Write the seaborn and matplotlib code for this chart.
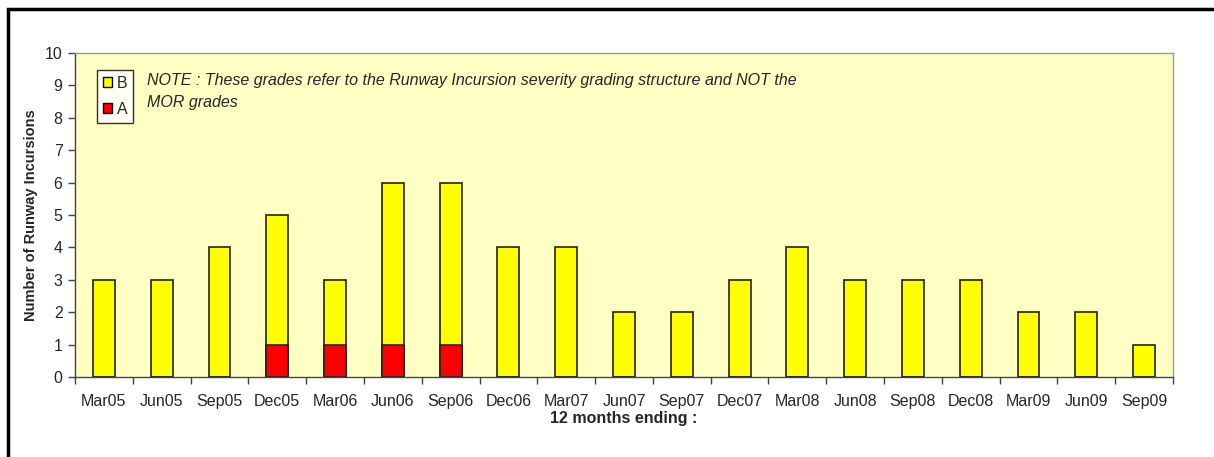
import numpy as np
import pandas as pd
import matplotlib
matplotlib.use('Agg')
import matplotlib.pyplot as plt
from matplotlib.patches import Patch, Rectangle
import seaborn as sns

# Data
periods = ['Mar05', 'Jun05', 'Sep05', 'Dec05', 'Mar06', 'Jun06', 'Sep06', 'Dec06',
           'Mar07', 'Jun07', 'Sep07', 'Dec07', 'Mar08', 'Jun08', 'Sep08', 'Dec08',
           'Mar09', 'Jun09', 'Sep09']
grade_a = [0, 0, 0, 1, 1, 1, 1, 0, 0, 0, 0, 0, 0, 0, 0, 0, 0, 0, 0]
grade_b = [3, 3, 4, 4, 2, 5, 5, 4, 4, 2, 2, 3, 4, 3, 3, 3, 2, 2, 1]

df = pd.DataFrame({'period': periods, 'A': grade_a, 'B': grade_b})
df['total'] = df['A'] + df['B']

sns.set_style('white')
plt.rcParams['font.family'] = ['Liberation Sans', 'DejaVu Sans']

fig = plt.figure(figsize=(12.14, 4.57), dpi=100)
ax = fig.add_axes([0.0618, 0.175, 0.9044, 0.709])

yellow = '#FFFF00'
red = '#FF0000'
edge = '#222222'

# stacked: total in yellow, A over it in red
sns.barplot(data=df, x='period', y='total', color=yellow, edgecolor=edge,
            linewidth=1.2, width=0.38, saturation=1, ax=ax)
sns.barplot(data=df, x='period', y='A', color=red, edgecolor=edge,
            linewidth=1.2, width=0.38, saturation=1, ax=ax)

ax.set_facecolor('#FFFFC4')
ax.set_xlim(-0.5, len(periods) - 0.5)
ax.set_ylim(0, 10)
ax.set_yticks(range(0, 11))

# ticks between categories, Excel style
ax.set_xticks(np.arange(-0.5, len(periods), 1.0), minor=True)
ax.tick_params(axis='x', which='major', length=0, labelsize=11.5, pad=12)
ax.tick_params(axis='x', which='minor', length=5, width=1, color='#444444',
               direction='out', bottom=True)
ax.tick_params(axis='y', length=5, width=1, color='#444444', direction='out',
               left=True, labelsize=11.5, pad=4)

for s in ['top', 'right']:
    ax.spines[s].set_color('#999999')
    ax.spines[s].set_linewidth(1)
for s in ['left', 'bottom']:
    ax.spines[s].set_color('#444444')
    ax.spines[s].set_linewidth(1)

ax.set_xlabel('12 months ending :', fontsize=11.5, fontweight='bold', labelpad=2)
ax.set_ylabel('Number of Runway Incursions', fontsize=10.5, fontweight='bold',
              labelpad=5)

handles = [Patch(facecolor=yellow, edgecolor='black', label='B'),
           Patch(facecolor=red, edgecolor='black', label='A')]
leg = ax.legend(handles=handles, loc='upper left', bbox_to_anchor=(0.02, 0.947),
                frameon=True, fancybox=False, edgecolor='black', fontsize=11.5,
                handlelength=0.6, handleheight=0.6, handletextpad=0.3,
                borderpad=0.35, labelspacing=0.7, borderaxespad=0)
leg.get_frame().set_linewidth(1)
leg.get_frame().set_facecolor('white')

ax.text(0.066, 0.938, 'NOTE : These grades refer to the Runway Incursion severity grading structure and NOT the\nMOR grades',
        transform=ax.transAxes, fontsize=11.5, style='italic', va='top', ha='left',
        linespacing=1.55)

# outer border of the chart object
fig.patches.append(Rectangle((8 / 1214, -0.1), 1.2, 1 - 9 / 457 + 0.1,
                             transform=fig.transFigure, fill=False,
                             edgecolor='black', linewidth=2.5))

fig.savefig('out.png', dpi=100)
